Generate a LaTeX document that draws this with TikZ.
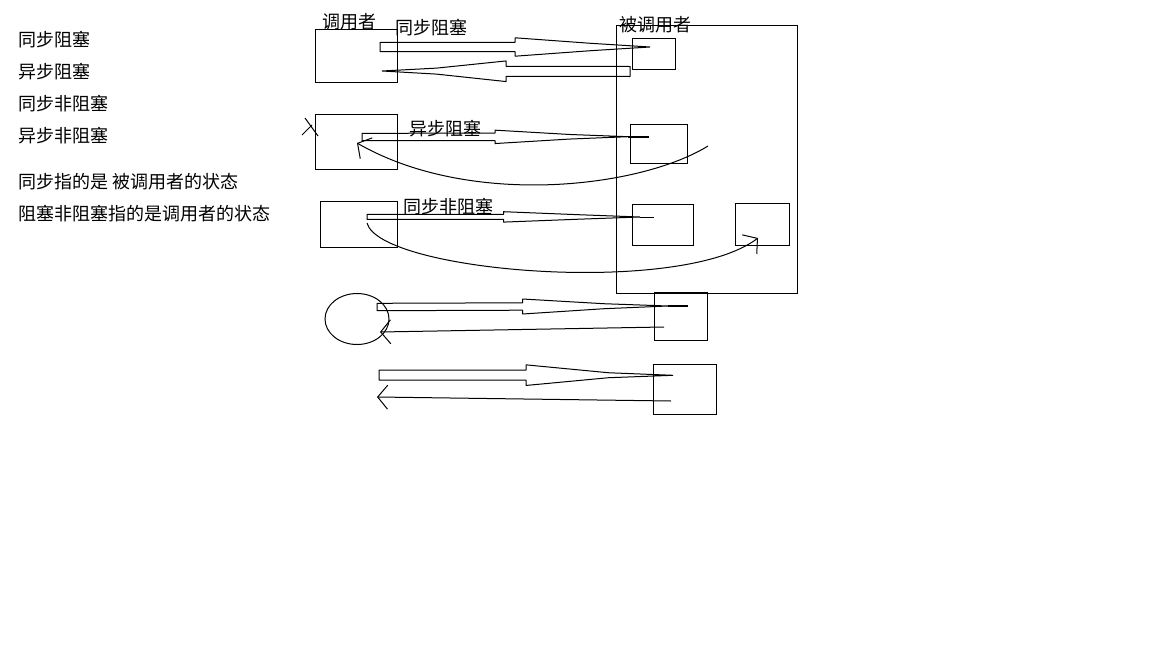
\documentclass[tikz,border=0pt]{standalone}
\usepackage{fontspec}
\setmainfont{Noto Sans CJK SC}
\usepackage{tikz}
\usetikzlibrary{arrows.meta,positioning,shapes.geometric,calc}

% hand-drawn block arrow: start, tip, shaft half width, head half width, neck half width
\newcommand{\fatarrow}[5]{%
  \draw[line join=bevel] ($(#1)+(0,-#3)$) -- ($(#1)!0.5!(#2)+(0,-#3)$) -- ($(#1)!0.5!(#2)+(0,-#4)$)
    -- ($(#1)!0.78!(#2)+(0,-#5)$) -- (#2) -- ($(#1)!0.78!(#2)+(0,#5)$)
    -- ($(#1)!0.5!(#2)+(0,#4)$) -- ($(#1)!0.5!(#2)+(0,#3)$) -- ($(#1)+(0,#3)$) -- cycle;}

\begin{document}
\begin{tikzpicture}[
    x=1pt, y=-1pt, line width=1pt,
    box/.style={draw, inner sep=0pt, anchor=north west},
    lbl/.style={inner sep=0pt, font=\fontsize{18}{21}\selectfont},
    back/.style={-{Straight Barb[length=10pt, width=24pt]}}
  ]
  \fill[white] (0,0) rectangle (1152,648);
  \useasboundingbox (0,0) rectangle (1152,648);

  % notes on the left
  \node[lbl, anchor=west] (note1) at (18,40) {同步阻塞};
  \node[lbl, anchor=west] (note2) at (18,72) {异步阻塞};
  \node[lbl, anchor=west] (note3) at (18,104) {同步非阻塞};
  \node[lbl, anchor=west] (note4) at (18,136) {异步非阻塞};
  \node[lbl, anchor=west] (note5) at (18,182) {同步指的是 被调用者的状态};
  \node[lbl, anchor=west] (note6) at (18,214) {阻塞非阻塞指的是调用者的状态};

  % caller side
  \node[box, minimum width=82pt, minimum height=53pt] (callerA) at (315,29) {};
  \node[box, minimum width=82pt, minimum height=55pt] (callerB) at (315,114) {};
  \node[box, minimum width=77pt, minimum height=46pt] (callerC) at (320,201) {};
  \node[draw, ellipse, inner sep=0pt, minimum width=64pt, minimum height=51pt] (circ) at (357,319) {};
  \node[lbl] (callerlbl) at (349,22) {调用者};

  % callee side
  \node[box, minimum width=181pt, minimum height=268pt] (server) at (616,25) {};
  \node[box, minimum width=43pt, minimum height=31pt] (srvA) at (632,38) {};
  \node[box, minimum width=57pt, minimum height=39pt] (srvB) at (630,124) {};
  \node[box, minimum width=61pt, minimum height=41pt] (srvC) at (632,204) {};
  \node[box, minimum width=54pt, minimum height=42pt] (srvD) at (735,203) {};
  \node[box, minimum width=53pt, minimum height=48pt] (boxE) at (654,292) {};
  \node[box, minimum width=63pt, minimum height=50pt] (boxF) at (653,364) {};
  \node[lbl] (serverlbl) at (655,25) {被调用者};

  % row labels
  \node[lbl] (lblA) at (431,28) {同步阻塞};
  \node[lbl] (lblB) at (445,129) {异步阻塞};
  \node[lbl] (lblC) at (448,207) {同步非阻塞};

  % cross on caller B
  \draw (305,118) -- (318,136);
  \draw (302,135) -- (312,125);

  % ends of the arrows
  \coordinate (sA) at (380,47);    \coordinate (tA) at (650,47);
  \coordinate (sR) at (630,71.5);  \coordinate (tR) at (382,71);
  \coordinate (sB) at (362,137);   \coordinate (tB) at (628,136.7);  \coordinate (eB) at (649,136.7);
  \coordinate (sC) at (367,216.8); \coordinate (tC) at (640,217);    \coordinate (eC) at (654,217);
  \coordinate (sE) at (377,307);   \coordinate (tE) at (668,306);    \coordinate (eE) at (688,306);
  \coordinate (sF) at (379,375);   \coordinate (tF) at (673,375.3);

  \fatarrow{sA}{tA}{4.7}{9.2}{3.7}
  \fatarrow{sR}{tR}{5}{10.3}{3}
  \fatarrow{sB}{tB}{3.7}{6.7}{2.3}
  \draw[line width=2pt] (tB) -- (eB);
  \fatarrow{sC}{tC}{2.5}{5.2}{2.2}
  \draw (tC) -- (eC);
  \fatarrow{sE}{tE}{3.7}{7.5}{2.5}
  \draw[line width=2pt] (tE) -- (eE);
  \fatarrow{sF}{tF}{5}{10.3}{2.5}

  % replies and callbacks
  \coordinate (cbB) at (708,146);  \coordinate (cbBend) at (357,143);
  \coordinate (cbC) at (367,223);  \coordinate (cbCend) at (758,238);
  \coordinate (rE) at (664,327);   \coordinate (rEend) at (380,332);
  \coordinate (rF) at (671,401);   \coordinate (rFend) at (377,397);

  \draw[back] (cbB) .. controls (640,188) and (470,208) .. (cbBend);
  \draw[back] (cbC) .. controls (380,272) and (680,297) .. (cbCend);
  \draw[back] (rE) -- (rEend);
  \draw[back] (rF) -- (rFend);
\end{tikzpicture}
\end{document}
